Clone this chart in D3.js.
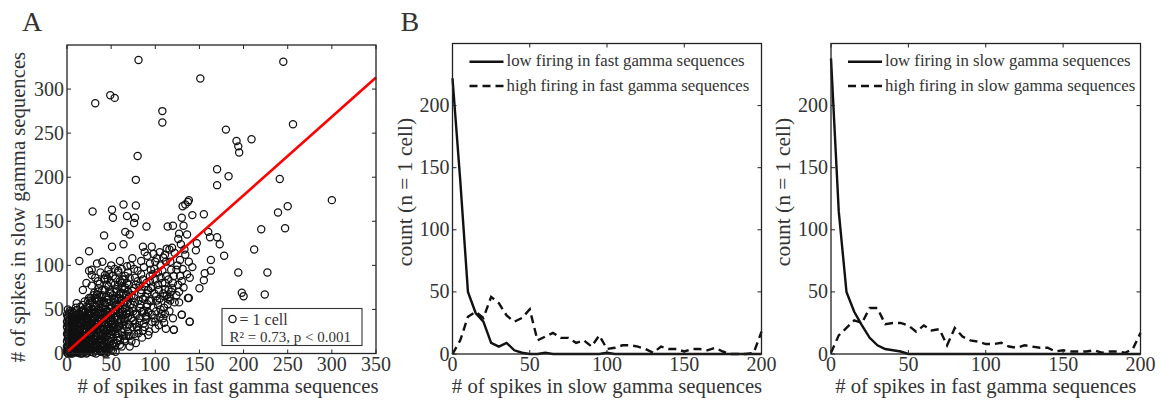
<!DOCTYPE html>
<html><head><meta charset="utf-8">
<script src="https://cdn.jsdelivr.net/npm/d3@7"></script>
<style>
body{margin:0;background:#fff;}
svg{display:block;}
text{font-family:"Liberation Serif","Times New Roman",serif;fill:#333;}
</style></head>
<body>
<svg id="chart" width="1161" height="402"></svg>
<script>
// ---------------- DATA ----------------
// Panel A: each cell = [spikes in fast gamma sequences, spikes in slow gamma sequences]
const cellSpikes = [
 [0,1],[1,4],[0,8],[2,12],[1,17],[0,22],[2,27],[1,33],[3,38],[0,14],[4,0],[3,6],[5,3],[4,10],[6,15],[5,20],[3,24],[6,29],[7,35],[4,42],
 [8,2],[7,7],[9,11],[8,18],[10,24],[9,30],[11,38],[12,5],[13,13],[11,20],[14,27],[12,33],[15,0],[14,9],[15,17],[13,45],[10,44],[6,48],[2,45],[15,38],
 [14,22],[9,2],[12,1],[5,1],[3,1],[1,40],[2,36],[0,30],[7,26],[8,40],
 [16,4],[17,12],[18,20],[16,30],[19,36],[17,42],[20,2],[21,8],[22,15],[20,24],[23,31],[21,47],[24,52],[22,40],[25,5],[26,11],[27,19],[25,27],[28,35],[26,44],
 [29,58],[27,63],[30,1],[29,14],[28,24],[30,30],[29,41],[30,49],[18,55],[24,60],[19,9],[23,1],[27,2],[16,48],[19,28],[22,6],
 [31,6],[32,12],[33,20],[31,27],[34,34],[32,40],[35,46],[33,53],[36,60],[34,67],[37,3],[38,9],[39,16],[37,24],[40,31],[38,38],[41,45],[39,52],[42,58],[40,66],
 [43,72],[44,0],[45,11],[43,18],[46,26],[44,33],[47,40],[45,47],[48,54],[46,61],[49,68],[47,76],[50,4],[48,14],[50,22],[49,36],[50,44],[42,84],[36,74],[31,69],
 [28,77],[35,82],[46,85],[38,2],[41,8],[33,0],[36,15],[42,28],[35,38],[44,50],
 [51,10],[52,18],[53,27],[51,33],[54,41],[52,48],[55,55],[53,62],[56,70],[54,78],[57,15],[58,23],[59,31],[57,38],[60,46],[58,53],[61,60],[59,67],[62,74],[60,82],
 [63,20],[64,28],[65,36],[63,43],[66,51],[64,58],[67,66],[65,73],[68,80],[66,88],[69,25],[70,33],[69,41],[70,49],[68,57],[70,64],[52,88],[58,92],[55,2],[62,8],
 [66,14],[48,90],[55,30],[61,39],[67,45],
 [72,20],[74,30],[73,40],[75,48],[72,56],[76,63],[74,71],[78,78],[77,86],[80,26],[82,35],[79,44],[83,52],[81,60],[84,68],[82,77],[86,84],[88,30],[90,39],[87,48],
 [91,56],[89,64],[92,72],[90,80],[94,88],[96,44],[98,52],[95,60],[99,68],[97,76],[100,84],[85,18],[93,25],[78,12],[71,8],[102,60],[104,72],[106,50],[108,80],[103,92],
 [110,65],[112,88],[115,72],[118,95],[114,56],[120,80],
 [2,3],[4,6],[1,9],[3,13],[5,16],[2,19],[4,23],[1,26],[3,30],[5,34],[2,38],[6,41],[4,46],[1,50],[7,3],[9,7],[6,10],[8,14],[10,17],[7,21],
 [9,24],[11,28],[8,32],[10,36],[12,40],[9,43],[11,49],[13,2],[15,5],[12,9],[14,14],[16,16],[13,20],[15,25],[17,27],[14,31],[16,35],[18,39],[15,42],[17,47],
 [19,50],[18,1],[20,5],[22,9],[19,13],[21,18],[23,21],[20,28],[22,32],[24,36],[21,39],[23,44],[25,48],[22,53],[26,57],[24,3],[26,7],[28,11],[25,15],[27,22],
 [29,26],[26,30],[28,38],[30,42],[27,46],[29,50],[31,54],[28,60],[32,63],[30,8],[32,4],[34,9],[31,15],[33,17],[35,23],[32,30],[34,28],[36,36],[33,43],[35,50],
 [37,56],[34,62],[38,64],[36,5],[39,2],[40,8],[37,13],[39,20],[41,22],[38,29],[40,35],[42,40],[39,46],[41,51],[43,55],[40,60],[44,64],[42,12],[44,6],[46,2],
 [43,24],[45,30],[47,34],[44,43],[46,48],[48,51],[45,58],[47,65],[49,70],[48,9],[50,14],[52,3],[49,18],[51,25],[53,30],[50,38],[52,37],[54,46],[51,52],[53,57],
 [55,61],[52,66],[56,73],[54,8],[56,12],[58,18],[55,22],[57,28],[59,34],[56,42],[58,47],[60,51],[57,56],[59,63],[61,69],[58,76],[62,80],[60,15],[62,24],[64,33],
 [61,37],[63,48],[65,55],[62,61],[64,68],[66,75],[63,84],[67,20],[68,30],[66,39],[68,45],[67,60],[69,70],[70,78],[65,84],[71,86],[55,85],[50,80],[45,78],[40,72],
 [35,70],[30,66],[25,63],[20,59],[15,53],[10,52],[3,48],[0,44],[0,36],[0,3],[1,0],[6,0],[11,1],[17,0],[22,0],[27,5],[33,3],[42,1],[47,5],[53,12],
 [60,10],[65,16],[70,20],[73,14],[76,22],[79,30],[75,37],[78,45],[74,52],[77,58],[73,66],[76,74],[80,82],[84,90],[82,40],[85,47],[83,56],[86,62],[84,72],[88,76],
 [87,34],[89,42],[92,47],[90,53],[93,60],[91,68],[95,74],[94,82],[97,90],[99,96],[96,36],[99,40],[101,48],[103,55],[101,65],[105,62],[103,78],[106,86],[108,94],[100,28],
 [104,32],[107,45],[110,52],[113,66],[111,80],[115,84],[117,60],[119,74],[121,88],[124,95],[116,48],[120,40],[124,66],[127,70],[125,100],[128,106],[131,96],[133,118],[129,124],[117,104],
 [106,100],[95,95],[87,98],[76,96],[72,100],[62,96],[54,96],[47,95],[38,92],[32,86],[22,80],[18,72],[60,105],[74,108],[84,105],[40,104],[50,100],
 [1,6],[3,11],[2,15],[4,19],[1,21],[3,28],[2,31],[5,36],[1,42],[6,44],[5,12],[7,17],[6,23],[8,28],[7,31],[9,37],[8,46],[10,41],[11,8],[10,12],
 [12,16],[11,23],[13,26],[12,30],[14,36],[13,40],[16,44],[16,8],[17,15],[18,24],[17,33],[19,41],[20,46],[21,12],[20,17],[22,25],[21,35],[23,38],[24,43],[25,9],
 [24,18],[26,22],[25,33],[27,40],[28,45],[29,5],[30,17],[29,29],[31,35],[32,47],[33,9],[35,13],[34,19],[36,27],[35,33],[37,41],[38,46],[39,10],[40,15],[41,27],
 [42,34],[43,45],[44,38],[45,20],[46,15],[47,23],[48,29],[49,43],[18,6],[14,3],[8,8],[27,28],[38,20],[45,4],[50,30],[52,25],[54,33],[56,50],[57,62],
 [111,112],[116,118],[122,114],[119,120],[134,112],[138,104],[142,98],[136,90],[139,86],[128,88],[126,78],[130,82],[132,75],[109,68],[114,62],[118,70],[122,58],[111,73],[116,64],[109,40],
 [110,35],[111,45],[137,63],[127,58],[130,44],[139,36],[121,27],[86,26],[92,21],[81,23],[77,34],[71,47],[90,43],[100,36],[105,41],[112,28],[41,4],[11,57],[28,89],[43,85],
 [37,79],[25,94],[28,95],[43,89],[58,94],[69,92],[80,94],[68,99],[86,121],[96,121],[88,115],[91,111],[98,113],[105,115],[102,108],[109,109],[113,119],[100,104],[112,104],[94,102],[44,3],
 [81,333],[32,284],[49,293],[54,290],[151,312],[245,331],[108,275],[108,262],[80,224],[78,197],[180,254],[192,241],[194,235],[195,228],[209,243],[256,260],[170,209],[170,191],[183,201],[241,198],
 [138,174],[300,174],
 [29,161],[51,163],[52,154],[64,169],[78,168],[68,156],[77,154],[76,148],[90,144],[42,134],[66,138],[71,135],[64,124],[25,116],[14,105],[34,102],[51,121],
 [131,167],[134,169],[137,172],[130,154],[142,157],[155,158],[132,145],[114,144],[120,145],[127,136],[136,135],[126,130],[160,138],[162,132],[170,132],[173,124],[147,125],[146,117],[178,111],
 [163,106],[163,94],[156,91],[155,83],[150,74],[138,63],[130,44],[139,36],[121,27],
 [194,92],[198,69],[200,65],[212,118],[220,141],[227,92],[224,67],[239,160],[250,167],[247,142]
];
const fitSlope = 0.89, fitIntercept = 1.6;
const fitRange = [1, 350];
const scatterXTicks = [0,50,100,150,200,250,300,350];
const scatterYTicks = [0,50,100,150,200,250,300];
const scatterLegend = ["= 1 cell", "R\u00B2 = 0.73, p < 0.001"];

// Panel B histograms (bin centres, counts)
const binCenters = [0,5,10,15,20,25,30,35,40,45,50,55,60,65,70,75,80,85,90,95,100,105,110,115,120,125,130,135,140,145,150,155,160,165,170,175,180,185,190,195,200];
const lowFast  = [222,140,50,33,26,9,6,9,3,1,0,0,1,0,0,0,0,0,0,0,1,0,0,0,0,0,0,0,0,0,0,0,0,0,0,0,0,0,0,0,0];
const highFast = [0,11,30,34,29,46,41,31,26,29,36,11,14,17,13,13,9,11,6,15,4,5,7,7,6,4,1,6,4,4,2,4,4,3,5,2,0,0,0,1,18];
const lowSlow  = [238,115,50,34,23,13,7,4,3,2,0,0,0,0,0,0,0,0,0,0,0,0,0,0,0,0,0,0,0,0,0,0,0,0,0,0,0,0,0,0,0];
const highSlow = [1,15,21,27,25,37,37,24,25,25,23,18,23,19,20,7,21,14,11,10,8,8,9,6,5,7,6,5,5,2,3,2,2,2,3,1,2,2,1,4,17];
const histXTicks = [0,50,100,150,200];
const histYTicks = [0,50,100,150,200];

// ---------------- DRAW ----------------
const svg = d3.select("#chart");
const tickFont = 20, labelFont = 20.7;

function frame(g, x, y, xt, yt) {
  const [x0,x1] = x.range(), [y0,y1] = y.range();
  const tl = 4;
  xt.forEach(v => {
    g.append("line").attr("x1",x(v)).attr("x2",x(v)).attr("y1",y0).attr("y2",y0-tl).attr("stroke","#222");
    g.append("line").attr("x1",x(v)).attr("x2",x(v)).attr("y1",y1).attr("y2",y1+tl).attr("stroke","#222");
    g.append("text").attr("x",x(v)).attr("y",y0+17).attr("text-anchor","middle").attr("font-size",tickFont).text(v);
  });
  yt.forEach(v => {
    g.append("line").attr("x1",x0).attr("x2",x0+tl).attr("y1",y(v)).attr("y2",y(v)).attr("stroke","#222");
    g.append("line").attr("x1",x1).attr("x2",x1-tl).attr("y1",y(v)).attr("y2",y(v)).attr("stroke","#222");
    g.append("text").attr("x",x0-3).attr("y",y(v)+6.5).attr("text-anchor","end").attr("font-size",tickFont).text(v);
  });
  g.append("rect").attr("x",x0).attr("y",y1).attr("width",x1-x0).attr("height",y0-y1)
   .attr("fill","none").attr("stroke","#222").attr("stroke-width",1.3);
}

// ---- Panel A ----
{
  const x = d3.scaleLinear().domain([0,350]).range([67,376]);
  const y = d3.scaleLinear().domain([0,350]).range([353.5,45]);
  const g = svg.append("g");
  g.selectAll("circle.pt").data(cellSpikes).join("circle").attr("class","pt")
    .attr("cx",d=>x(d[0])).attr("cy",d=>y(d[1])).attr("r",3.6)
    .attr("fill","none").attr("stroke","#111").attr("stroke-width",1.25);
  g.append("line").attr("x1",x(fitRange[0])).attr("y1",y(fitSlope*fitRange[0]+fitIntercept))
    .attr("x2",x(fitRange[1])).attr("y2",y(fitSlope*fitRange[1]+fitIntercept))
    .attr("stroke","#f00").attr("stroke-width",2.6);
  frame(g, x, y, scatterXTicks, scatterYTicks);
  // legend
  g.append("rect").attr("x",222).attr("y",308.5).attr("width",140).attr("height",37)
    .attr("fill","#fff").attr("stroke","#333").attr("stroke-width",1.1);
  g.append("circle").attr("cx",232.5).attr("cy",319).attr("r",3.6).attr("fill","none").attr("stroke","#111").attr("stroke-width",1.25);
  g.append("text").attr("x",239.5).attr("y",324.5).attr("font-size",16).text(scatterLegend[0]);
  g.append("text").attr("x",229.5).attr("y",341.5).attr("font-size",15).text(scatterLegend[1]);
  g.append("text").attr("x",228).attr("y",393).attr("text-anchor","middle").attr("font-size",labelFont).text("# of spikes in fast gamma sequences");
  g.append("text").attr("transform","translate(25,207) rotate(-90)").attr("text-anchor","middle").attr("font-size",labelFont).text("# of spikes in slow gamma sequences");
  g.append("text").attr("x",22).attr("y",31).attr("font-size",28).text("A");
}

// ---- Panel B ----
function histPanel(left, right, low, high, xLabel, legendLow, legendHigh, label) {
  const x = d3.scaleLinear().domain([0,200]).range([left,right]);
  const y = d3.scaleLinear().domain([0,250]).range([354,43.5]);
  const g = svg.append("g");
  const line = d3.line().x((d,i)=>x(binCenters[i])).y(d=>y(d));
  g.append("path").datum(high).attr("d",line).attr("fill","none").attr("stroke","#111")
    .attr("stroke-width",2.4).attr("stroke-dasharray","8,5");
  g.append("path").datum(low).attr("d",line).attr("fill","none").attr("stroke","#111")
    .attr("stroke-width",2.4);
  frame(g, x, y, histXTicks, histYTicks);
  const lx = left + 17;
  g.append("line").attr("x1",lx).attr("x2",lx+34).attr("y1",61.7).attr("y2",61.7).attr("stroke","#111").attr("stroke-width",2.4);
  g.append("line").attr("x1",lx).attr("x2",lx+34).attr("y1",86).attr("y2",86).attr("stroke","#111").attr("stroke-width",2.4).attr("stroke-dasharray","8,5");
  g.append("text").attr("x",lx+37).attr("y",66).attr("font-size",16.8).text(legendLow);
  g.append("text").attr("x",lx+37).attr("y",90.5).attr("font-size",16.8).text(legendHigh);
  g.append("text").attr("x",(left+right)/2).attr("y",393).attr("text-anchor","middle").attr("font-size",labelFont).text(xLabel);
  g.append("text").attr("transform",`translate(${left-41},192) rotate(-90)`).attr("text-anchor","middle").attr("font-size",21.5).text("count (n = 1 cell)");
  if (label) g.append("text").attr("x",left-52).attr("y",31).attr("font-size",28).text(label);
}
histPanel(452.5, 761.5, lowFast, highFast, "# of spikes in slow gamma sequences",
  "low firing in fast gamma sequences", "high firing in fast gamma sequences", "B");
histPanel(831, 1140.5, lowSlow, highSlow, "# of spikes in fast gamma sequences",
  "low firing in slow gamma sequences", "high firing in slow gamma sequences", null);
</script>
</body></html>
